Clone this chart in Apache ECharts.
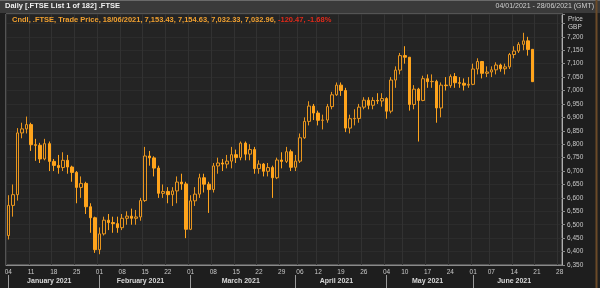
<!DOCTYPE html>
<html><head><meta charset="utf-8">
<script src="https://cdn.jsdelivr.net/npm/echarts@6/dist/echarts.min.js"></script>
<style>html,body{margin:0;padding:0;background:#1e1e1e}#c{width:600px;height:288px}</style>
</head><body><div id="c"></div><script>
// Trading days (DD/MM/2021), incl. empty days to end of range
const categories = [
'04/01','05/01','06/01','07/01','08/01','11/01','12/01','13/01','14/01','15/01','18/01','19/01','20/01','21/01','22/01','25/01','26/01','27/01','28/01','29/01',
'01/02','02/02','03/02','04/02','05/02','08/02','09/02','10/02','11/02','12/02','15/02','16/02','17/02','18/02','19/02','22/02','23/02','24/02','25/02','26/02',
'01/03','02/03','03/03','04/03','05/03','08/03','09/03','10/03','11/03','12/03','15/03','16/03','17/03','18/03','19/03','22/03','23/03','24/03','25/03','26/03','29/03','30/03','31/03',
'01/04','06/04','07/04','08/04','09/04','12/04','13/04','14/04','15/04','16/04','19/04','20/04','21/04','22/04','23/04','26/04','27/04','28/04','29/04','30/04',
'04/05','05/05','06/05','07/05','10/05','11/05','12/05','13/05','14/05','17/05','18/05','19/05','20/05','21/05','24/05','25/05','26/05','27/05','28/05',
'01/06','02/06','03/06','04/06','07/06','08/06','09/06','10/06','11/06','14/06','15/06','16/06','17/06','18/06',
'21/06','22/06','23/06','24/06','25/06','28/06'];
const opens = [
6460,6572,6612,6842,6857,6873,6798,6796,6745,6802,6736,6721,6713,6740,6715,6695,6639,6654,6567,6526,
6407,6466,6517,6508,6504,6489,6524,6532,6524,6529,6590,6756,6749,6711,6617,6624,6612,6626,6659,6652,
6483,6589,6614,6675,6651,6631,6719,6730,6726,6737,6761,6750,6804,6763,6780,6709,6726,6699,6713,6675,6741,6736,6772,
6714,6737,6824,6885,6942,6916,6889,6890,6940,6984,7020,7000,6860,6895,6896,6938,6964,6945,6963,6961,
6970,6923,7039,7076,7130,7124,6948,7005,6963,7044,7033,7034,6935,7020,7018,7052,7029,7027,7020,
7023,7080,7108,7064,7069,7077,7095,7081,7088,7134,7147,7172,7185,7153.43];
const closes = [
6572,6612,6842,6857,6873,6798,6796,6745,6802,6736,6721,6713,6740,6715,6695,6639,6654,6567,6526,6407,
6466,6517,6508,6504,6489,6524,6532,6524,6529,6590,6756,6749,6711,6617,6624,6612,6626,6659,6652,6483,
6589,6614,6675,6651,6631,6719,6730,6726,6737,6761,6750,6804,6763,6780,6709,6726,6699,6713,6675,6741,6736,6772,6714,
6737,6824,6885,6942,6916,6889,6890,6940,6984,7020,7000,6860,6895,6896,6938,6964,6945,6963,6961,6970,
6923,7039,7076,7130,7124,6948,7005,6963,7044,7033,7034,6935,7020,7018,7052,7029,7027,7020,7023,
7080,7108,7064,7069,7077,7095,7081,7088,7134,7147,7172,7185,7153,7032.96];
const lows = [
6445,6530,6590,6822,6840,6775,6738,6730,6740,6700,6700,6690,6700,6690,6660,6580,6600,6540,6470,6395,
6390,6460,6480,6470,6470,6480,6500,6500,6500,6515,6585,6720,6680,6600,6600,6580,6570,6580,6630,6450,
6480,6570,6600,6620,6544,6620,6690,6700,6710,6710,6730,6740,6740,6740,6690,6690,6680,6680,6600,6670,6710,6730,6700,
6700,6730,6820,6870,6890,6870,6855,6880,6930,6980,6980,6845,6840,6870,6880,6930,6930,6930,6950,6940,
6895,6915,7010,7060,7100,6925,6930,6810,6960,7010,7010,6880,6900,7000,7010,7010,7010,7000,7010,
7020,7060,7045,7050,7050,7060,7070,7060,7080,7120,7140,7150,7130,7032.33];
const highs = [
6610,6650,6860,6880,6903,6880,6820,6805,6820,6810,6745,6760,6770,6760,6720,6700,6680,6660,6580,6530,
6490,6530,6540,6530,6530,6540,6550,6560,6555,6600,6790,6775,6755,6720,6650,6640,6640,6680,6690,6660,
6610,6640,6690,6690,6660,6730,6750,6745,6760,6790,6780,6810,6810,6800,6790,6740,6730,6730,6720,6750,6770,6790,6780,
6760,6840,6900,6960,6950,6925,6910,6950,6995,7030,7030,7010,6910,6930,6950,6975,6975,6975,6990,6990,
6975,7050,7090,7140,7165,7124,7020,7010,7055,7060,7060,7040,7030,7050,7060,7065,7050,7045,7050,
7100,7120,7110,7090,7090,7105,7100,7100,7140,7165,7180,7215,7200,7154.63];
const monthNames = ['January 2021','February 2021','March 2021','April 2021','May 2021','June 2021'];
const headerValues = 'Cndl, .FTSE, Trade Price, 18/06/2021, 7,153.43, 7,154.63, 7,032.33, 7,032.96, ';
const headerChange = '-120.47, -1.68%';

const toDate = s => new Date(2021, parseInt(s.slice(3,5))-1, parseInt(s.slice(0,2)));
const weekStart = categories.map((c,i) => i===0 || toDate(c).getDay() <= toDate(categories[i-1]).getDay());
const monthOf = c => parseInt(c.slice(3,5));
const monthStart = categories.map((c,i) => i===0 || monthOf(c)!==monthOf(categories[i-1]));
const monthMid = categories.map(()=>false);
for (let m=1;m<=6;m++){const idx=[];categories.forEach((c,i)=>{if(monthOf(c)===m)idx.push(i);});monthMid[idx[Math.floor((idx.length-1)/2)]]=true;}

const ohlc = closes.map((c,i)=>[opens[i],c,lows[i],highs[i]]);
const F = 'Liberation Sans, Arial, sans-serif';
const chart = echarts.init(document.getElementById('c'));
chart.setOption({
  backgroundColor:'#1e1e1e', animation:false,
  grid:{left:6,right:38,top:14,bottom:23,show:true,backgroundColor:'#242424',borderColor:'#8a8a8a',borderWidth:1},
  xAxis:[{
    type:'category',data:categories,boundaryGap:true,
    axisLine:{lineStyle:{color:'#8a8a8a'}},
    axisTick:{interval:(i)=>weekStart[i],alignWithLabel:true,length:3,lineStyle:{color:'#8a8a8a'}},
    axisLabel:{interval:(i)=>weekStart[i],formatter:v=>v.slice(0,2),color:'#c8c8c8',fontSize:6.5,fontFamily:F,margin:4},
    splitLine:{show:true,interval:(i)=>weekStart[i],lineStyle:{color:'#323232'}}
  },{
    type:'category',data:categories,boundaryGap:true,position:'bottom',offset:10,gridIndex:0,
    axisLine:{show:false},
    axisTick:{show:true,interval:(i)=>monthStart[i],alignWithLabel:true,length:13,lineStyle:{color:'#9a9a9a'}},
    axisLabel:{interval:(i)=>monthMid[i],formatter:v=>monthNames[monthOf(v)-1],color:'#d8d8d8',fontSize:7,fontWeight:'bold',fontFamily:F,margin:3},
    splitLine:{show:false}
  }],
  yAxis:{
    type:'value',position:'right',min:6350,max:7285,interval:50,scale:true,
    axisLine:{show:true,lineStyle:{color:'#b0b0b0'}},
    axisTick:{show:true,length:3,lineStyle:{color:'#8a8a8a'}},
    axisLabel:{color:'#c8c8c8',fontSize:6.5,fontFamily:F,margin:5,
      formatter:v=> v>7200 ? '' : v.toLocaleString('en-US')},
    splitLine:{show:true,lineStyle:{color:'#2c2c2c'}}
  },
  series:[{
    type:'candlestick',data:ohlc,barWidth:3,
    itemStyle:{color:'rgba(0,0,0,0)',color0:'#ffa41c',borderColor:'#e8951e',borderColor0:'#ffa41c',borderWidth:1},
    markLine:{silent:true,symbol:'none',lineStyle:{opacity:0},
      data:[{yAxis:closes[closes.length-1]}],
      label:{show:true,position:'end',distance:0,formatter:p=>p.value.toLocaleString('en-US',{minimumFractionDigits:2}),
        backgroundColor:'#f5a10f',color:'#1a1a1a',fontSize:6.5,fontFamily:F,fontWeight:'bold',padding:[1,4,1,4]}}
  }],
  graphic:[
    {type:'rect',shape:{x:0,y:0,width:600,height:13},style:{fill:'#3a3a3a'},z:-1},
    {type:'line',shape:{x1:0,y1:0.5,x2:600,y2:0.5},style:{stroke:'#6a6a6a'}},
    {type:'line',shape:{x1:596.5,y1:0,x2:596.5,y2:288},style:{stroke:'#6b4a28',lineWidth:2}},
    {type:'text',left:5,top:2,z:100,style:{text:'Daily [.FTSE List 1 of 182] .FTSE',fill:'#f0f0f0',font:'bold 7.5px '+F}},
    {type:'text',right:6,top:3,z:100,style:{text:'04/01/2021 - 28/06/2021 (GMT)',fill:'#cfcfcf',font:'7px '+F}},
    {type:'text',left:12,top:16,z:100,style:{text:'{a|'+headerValues+'}{b|'+headerChange+'}',
      rich:{a:{fill:'#f0a030',font:'bold 7.5px '+F},b:{fill:'#e02a1a',font:'bold 7.5px '+F}}}},
    {type:'text',left:568,top:16,z:100,style:{text:'Price',fill:'#d0d0d0',font:'6.5px '+F}},
    {type:'text',left:568,top:24,z:100,style:{text:'GBP',fill:'#d0d0d0',font:'6.5px '+F}}
  ]
});
</script></body></html>
